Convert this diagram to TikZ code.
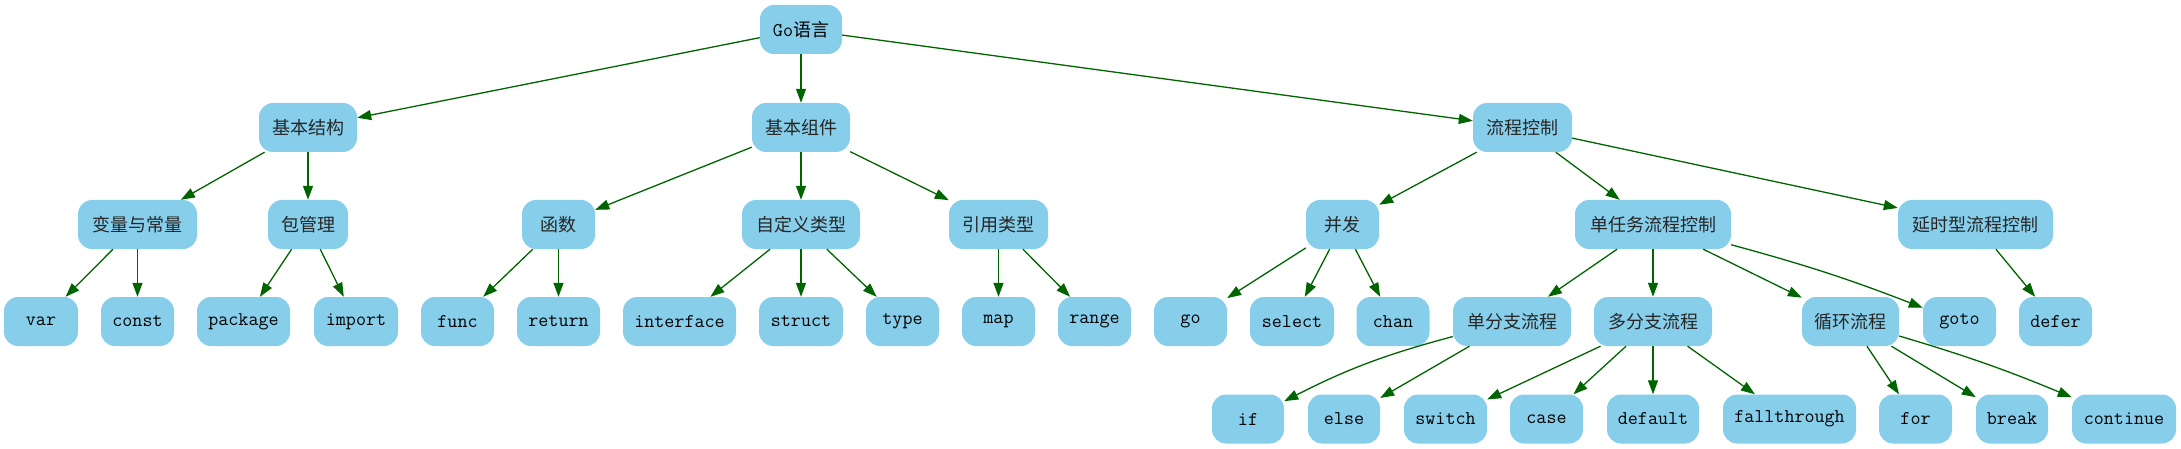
\documentclass[tikz,border=0pt]{standalone}
\usepackage{fontspec}
\newfontfamily\cjk{Noto Sans CJK SC}
\usetikzlibrary{arrows.meta}
\definecolor{skyb}{HTML}{87CEEB}
\definecolor{dgreen}{HTML}{006400}
\begin{document}
\begin{tikzpicture}[x=1pt,y=-1pt,
  box/.style={fill=skyb, rounded corners=14pt, minimum height=49pt, inner sep=0pt,
    font=\fontsize{19.5}{21}\selectfont\ttfamily, text=black},
  cn/.style={box, font=\fontsize{18}{20}\selectfont\cjk, text=black!85},
  link/.style={draw=dgreen, line width=1.3pt, -{Triangle[length=14pt,width=10pt]}}]
\useasboundingbox (0,0) rectangle (2181,449);
% row 1
\node[box, minimum width=82pt] (root) at (801,29.5) {Go{\cjk\fontsize{18}{20}\selectfont 语言}};
% row 2
\node[cn, minimum width=98pt] (jg) at (308,127.5) {基本结构};
\node[cn, minimum width=98pt] (zj) at (801,127.5) {基本组件};
\node[cn, minimum width=99pt] (lc) at (1522.5,127.5) {流程控制};
% row 3
\node[cn, minimum width=119pt] (bl) at (137.5,224.5) {变量与常量};
\node[cn, minimum width=80pt] (bg) at (308,224.5) {包管理};
\node[cn, minimum width=73pt] (hs) at (558.5,224.5) {函数};
\node[cn, minimum width=118pt] (zd) at (801,224.5) {自定义类型};
\node[cn, minimum width=99pt] (yy) at (998.5,224.5) {引用类型};
\node[cn, minimum width=73pt] (bf) at (1342.5,224.5) {并发};
\node[cn, minimum width=156pt] (dr) at (1653,224.5) {单任务流程控制};
\node[cn, minimum width=155pt] (ys) at (1975.5,224.5) {延时型流程控制};
% row 4
\node[box, minimum width=74pt] (nvar) at (41,321.5) {var};
\node[box, minimum width=73pt] (nconst) at (137.5,321.5) {const};
\node[box, minimum width=93pt] (npackage) at (243.5,321.5) {package};
\node[box, minimum width=84pt] (nimport) at (356,321.5) {import};
\node[box, minimum width=73pt] (nfunc) at (457.5,321.5) {func};
\node[box, minimum width=83pt] (nreturn) at (558.5,321.5) {return};
\node[box, minimum width=113pt] (ninterface) at (679.5,321.5) {interface};
\node[box, minimum width=84pt] (nstruct) at (801,321.5) {struct};
\node[box, minimum width=73pt] (ntype) at (902.5,321.5) {type};
\node[box, minimum width=73pt] (nmap) at (998.5,321.5) {map};
\node[box, minimum width=73pt] (nrange) at (1094.5,321.5) {range};
\node[box, minimum width=73pt] (ngo) at (1190.5,321.5) {go};
\node[box, minimum width=84pt] (nselect) at (1292,321.5) {select};
\node[box, minimum width=73pt] (nchan) at (1393,321.5) {chan};
\node[cn, minimum width=118pt] (sb) at (1512,321.5) {单分支流程};
\node[cn, minimum width=118pt] (mb) at (1653,321.5) {多分支流程};
\node[cn, minimum width=97pt] (xh) at (1850.5,321.5) {循环流程};
\node[box, minimum width=73pt] (ngoto) at (1959.5,321.5) {goto};
\node[box, minimum width=73pt] (ndefer) at (2055.5,321.5) {defer};
% row 5
\node[box, minimum width=72pt] (nif) at (1248,419) {if};
\node[box, minimum width=72pt] (nelse) at (1344,419) {else};
\node[box, minimum width=83pt] (nswitch) at (1445.5,419) {switch};
\node[box, minimum width=73pt] (ncase) at (1546.5,419) {case};
\node[box, minimum width=92pt] (ndefault) at (1653,419) {default};
\node[box, minimum width=133pt] (nfall) at (1789.5,419) {fallthrough};
\node[box, minimum width=73pt] (nfor) at (1915.5,419) {for};
\node[box, minimum width=72pt] (nbreak) at (2012,419) {break};
\node[box, minimum width=104pt] (ncontinue) at (2124,419) {continue};
% edges
\draw[link] (root) -- (jg);
\draw[link] (root) -- (zj);
\draw[link] (root) -- (lc);
\draw[link] (jg) -- (bl);
\draw[link] (jg) -- (bg);
\draw[link] (bl) -- (nvar);
\draw[link] (bl) -- (nconst);
\draw[link] (bg) -- (npackage);
\draw[link] (bg) -- (nimport);
\draw[link] (zj) -- (hs);
\draw[link] (zj) -- (zd);
\draw[link] (zj) -- (yy);
\draw[link] (hs) -- (nfunc);
\draw[link] (hs) -- (nreturn);
\draw[link] (zd) -- (ninterface);
\draw[link] (zd) -- (nstruct);
\draw[link] (zd) -- (ntype);
\draw[link] (yy) -- (nmap);
\draw[link] (yy) -- (nrange);
\draw[link] (lc) -- (bf);
\draw[link] (lc) -- (dr);
\draw[link] (lc) -- (ys);
\draw[link] (bf) -- (ngo);
\draw[link] (bf) -- (nselect);
\draw[link] (bf) -- (nchan);
\draw[link] (dr) -- (sb);
\draw[link] (dr) -- (mb);
\draw[link] (dr) -- (xh);
\draw[link] (dr) to[bend left=3] (ngoto);
\draw[link] (ys) -- (ndefer);
\draw[link] (sb) to[bend right=6] (nif);
\draw[link] (sb) -- (nelse);
\draw[link] (mb) -- (nswitch);
\draw[link] (mb) -- (ncase);
\draw[link] (mb) -- (ndefault);
\draw[link] (mb) -- (nfall);
\draw[link] (xh) -- (nfor);
\draw[link] (xh) -- (nbreak);
\draw[link] (xh) to[bend left=3] (ncontinue);
\end{tikzpicture}
\end{document}
